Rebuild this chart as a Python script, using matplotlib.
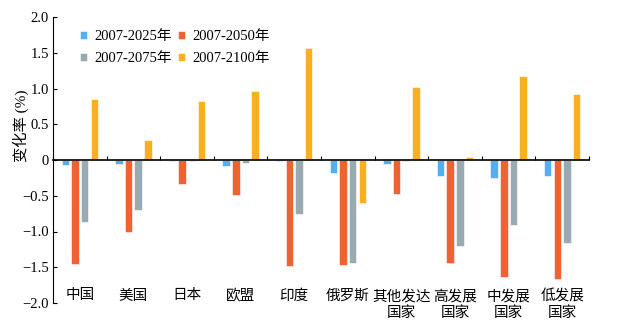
import matplotlib.pyplot as plt
import numpy as np

plt.rcParams['font.family'] = ['Liberation Serif', 'Noto Sans CJK SC']
plt.rcParams['axes.unicode_minus'] = True

# regions along the x axis
regions = ['中国', '美国', '日本', '欧盟', '印度', '俄罗斯',
           '其他发达\n国家', '高发展\n国家', '中发展\n国家', '低发展\n国家']

# change rate (%) for each period
p2025 = [-0.07, -0.05, -0.02, -0.08, -0.02, -0.18, -0.05, -0.22, -0.25, -0.22]
p2050 = [-1.46, -1.01, -0.34, -0.49, -1.48, -1.47, -0.48, -1.44, -1.63, -1.67]
p2075 = [-0.87, -0.70, -0.01, -0.04, -0.75, -1.44, -0.01, -1.20, -0.91, -1.16]
p2100 = [0.85, 0.28, 0.82, 0.97, 1.57, -0.60, 1.02, 0.04, 1.18, 0.93]

series = [p2025, p2050, p2075, p2100]
labels = ['2007-2025年', '2007-2050年', '2007-2075年', '2007-2100年']
colors = ['#55aef2', '#ef6232', '#99abb0', '#f8b020']

fig = plt.figure(figsize=(6.19, 3.31), dpi=100)
ax = fig.add_axes([53 / 619, 1 - 303 / 331, 536 / 619, 286 / 331])

x = np.arange(len(regions))
step = 0.18
width = 0.14
bars = []
for i, (vals, lab, col) in enumerate(zip(series, labels, colors)):
    b = ax.bar(x + (i - 1.5) * step, vals, width, color=col, label=lab,
               edgecolor='white', linewidth=0.4, zorder=2)
    bars.append(b)

ax.set_xlim(-0.5, len(regions) - 0.5)
ax.set_ylim(-2.0, 2.0)
ax.set_yticks([-2.0, -1.5, -1.0, -0.5, 0, 0.5, 1.0, 1.5, 2.0])
ax.set_yticklabels(['−2.0', '−1.5', '−1.0', '−0.5', '0', '0.5', '1.0', '1.5', '2.0'])
ax.tick_params(axis='y', direction='in', length=3, labelsize=10.5, pad=3)

# zero line acts as the x axis, ticks between groups
ax.spines['top'].set_visible(False)
ax.spines['right'].set_visible(False)
ax.spines['bottom'].set_position(('data', 0))
ax.spines['bottom'].set_linewidth(1.2)
ax.spines['bottom'].set_zorder(3)
ax.set_xticks(np.arange(len(regions) + 1) - 0.5)
ax.set_xticklabels([])
ax.tick_params(axis='x', direction='in', length=3)

for xi, name in zip(x, regions):
    ax.text(xi, -1.81, name, ha='center', va='top', fontsize=10.5,
            linespacing=1.25)

ax.set_ylabel('变化率 (%)', fontsize=11)
ax.yaxis.set_label_coords(-0.045, 0.62)

# row-wise legend order: 2025, 2050 / 2075, 2100
order = [0, 2, 1, 3]
ax.legend([bars[k] for k in order], [labels[k] for k in order],
          loc='upper left', bbox_to_anchor=(0.025, 1.0), ncol=2, frameon=False,
          fontsize=10.5, handlelength=0.5, handleheight=0.5, handletextpad=0.5,
          columnspacing=0.45, labelspacing=0.6)

fig.savefig('out.png', dpi=100)
